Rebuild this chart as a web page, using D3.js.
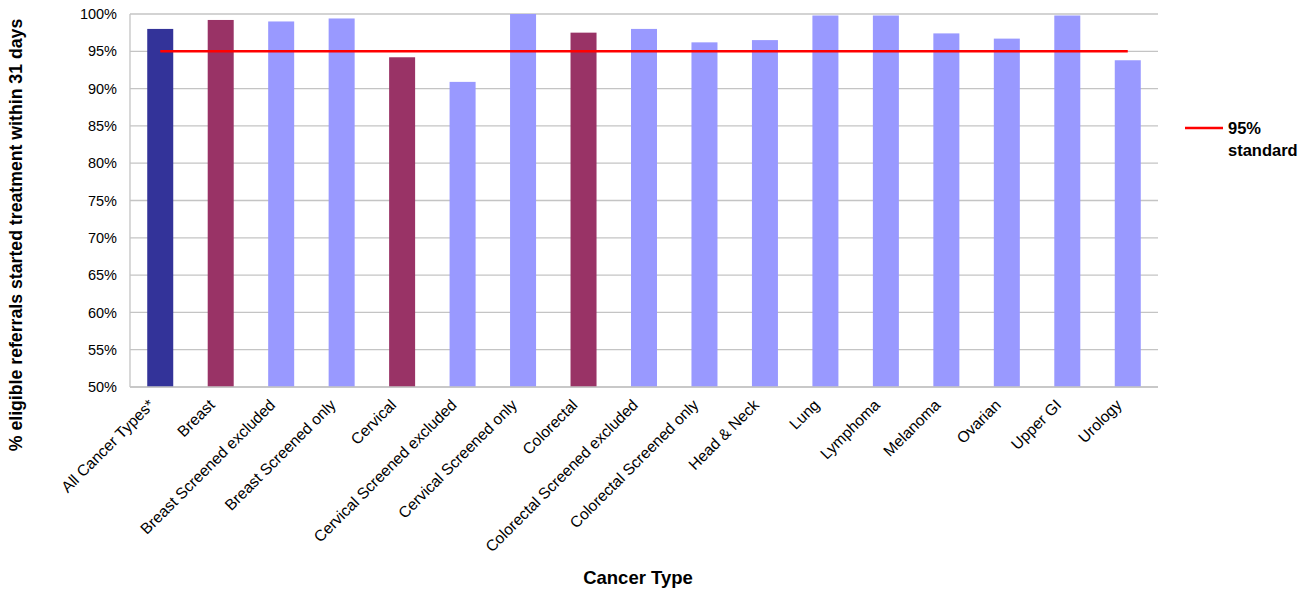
<!DOCTYPE html>
<html>
<head>
<meta charset="utf-8">
<script src="https://cdn.jsdelivr.net/npm/d3@7"></script>
<style>
  html, body { margin: 0; padding: 0; background: #ffffff; }
  svg { display: block; font-family: "Liberation Sans", Arial, sans-serif; }
</style>
</head>
<body>
<svg id="chart" width="1312" height="589"></svg>
<script>
// Cancer types shown along the x axis
const categories = [
  "All Cancer Types*", "Breast", "Breast Screened excluded", "Breast Screened only",
  "Cervical", "Cervical Screened excluded", "Cervical Screened only", "Colorectal",
  "Colorectal Screened excluded", "Colorectal Screened only", "Head & Neck", "Lung",
  "Lymphoma", "Melanoma", "Ovarian", "Upper GI", "Urology"
];
// % of eligible referrals starting treatment within 31 days
const values = [
  98.0, 99.2, 99.0, 99.4, 94.2, 90.9, 100.0, 97.5,
  98.0, 96.2, 96.5, 99.8, 99.8, 97.4, 96.7, 99.8, 93.8
];
// Bar group: 0 = all types, 1 = main tumour site, 2 = sub-group
const groups = [0, 1, 2, 2, 1, 2, 2, 1, 2, 2, 2, 2, 2, 2, 2, 2, 2];
const standard = 95;
const yTicks = [50, 55, 60, 65, 70, 75, 80, 85, 90, 95, 100];

const colors = ["#333399", "#993366", "#9999FF"];

const svg = d3.select("#chart");
const margin = { left: 130, right: 154, top: 14, bottom: 202 };
const W = 1312, H = 589;
const x0 = margin.left, x1 = W - margin.right;
const y0 = H - margin.bottom, y1 = margin.top;

const x = d3.scaleBand().domain(categories).range([x0, x1]).paddingInner(0.57).paddingOuter(0.285);
const y = d3.scaleLinear().domain([50, 100]).range([y0, y1]);

// horizontal gridlines
svg.append("g").selectAll("line").data(yTicks).join("line")
  .attr("x1", x0).attr("x2", x1)
  .attr("y1", d => y(d)).attr("y2", d => y(d))
  .attr("stroke", "#c4c4c4").attr("stroke-width", 1.3);

// y axis labels
const yAxis = d3.axisLeft(y).tickValues(yTicks).tickFormat(d => d + "%").tickSize(0).tickPadding(13);
const gy = svg.append("g").attr("transform", `translate(${x0},0)`).call(yAxis);
gy.select(".domain").remove();
gy.selectAll("text").attr("font-size", "14.5px").attr("fill", "#000").attr("font-family", "Liberation Sans, Arial, sans-serif");

// bars
svg.append("g").selectAll("rect").data(categories).join("rect")
  .attr("x", d => x(d))
  .attr("width", x.bandwidth())
  .attr("y", (d, i) => y(values[i]))
  .attr("height", (d, i) => y(50) - y(values[i]))
  .attr("fill", (d, i) => colors[groups[i]]);

// axis frame lines (left and bottom)
svg.append("line").attr("x1", x0).attr("x2", x0).attr("y1", y1).attr("y2", y0)
  .attr("stroke", "#c4c4c4").attr("stroke-width", 1.3);
svg.append("line").attr("x1", x0).attr("x2", x1).attr("y1", y0).attr("y2", y0)
  .attr("stroke", "#c4c4c4").attr("stroke-width", 1.3);

// 95% standard line across band centres
const firstC = x(categories[0]) + x.bandwidth() / 2;
const lastC = x(categories[categories.length - 1]) + x.bandwidth() / 2;
svg.append("line")
  .attr("x1", firstC).attr("x2", lastC)
  .attr("y1", y(standard)).attr("y2", y(standard))
  .attr("stroke", "#FF0000").attr("stroke-width", 2.5);

// x axis labels, rotated
const xAxis = d3.axisBottom(x).tickSize(0).tickPadding(0);
const gx = svg.append("g").attr("transform", `translate(0,${y0})`).call(xAxis);
gx.select(".domain").remove();
gx.selectAll("text")
  .attr("font-size", "15.6px").attr("fill", "#000").attr("font-family", "Liberation Sans, Arial, sans-serif")
  .attr("text-anchor", "end")
  .attr("dy", "0")
  .attr("transform", "translate(-5,19) rotate(-45)");

// axis titles
svg.append("text")
  .attr("transform", `translate(22,${(13 + 457) / 2}) rotate(-90)`)
  .attr("text-anchor", "middle")
  .attr("font-size", "17.7px").attr("font-weight", "bold")
  .text("% eligible referrals started treatment within 31 days");

svg.append("text")
  .attr("x", 638).attr("y", 584)
  .attr("text-anchor", "middle")
  .attr("font-size", "18.5px").attr("font-weight", "bold")
  .text("Cancer Type");

// legend
const lg = svg.append("g").attr("transform", "translate(1185,128)");
lg.append("line").attr("x1", 0).attr("x2", 38).attr("y1", 0).attr("y2", 0)
  .attr("stroke", "#FF0000").attr("stroke-width", 2.5);
lg.append("text").attr("x", 43).attr("y", 6)
  .attr("font-size", "16.5px").attr("font-weight", "bold").text("95%");
lg.append("text").attr("x", 43).attr("y", 28)
  .attr("font-size", "16.5px").attr("font-weight", "bold").text("standard");
</script>
</body>
</html>
